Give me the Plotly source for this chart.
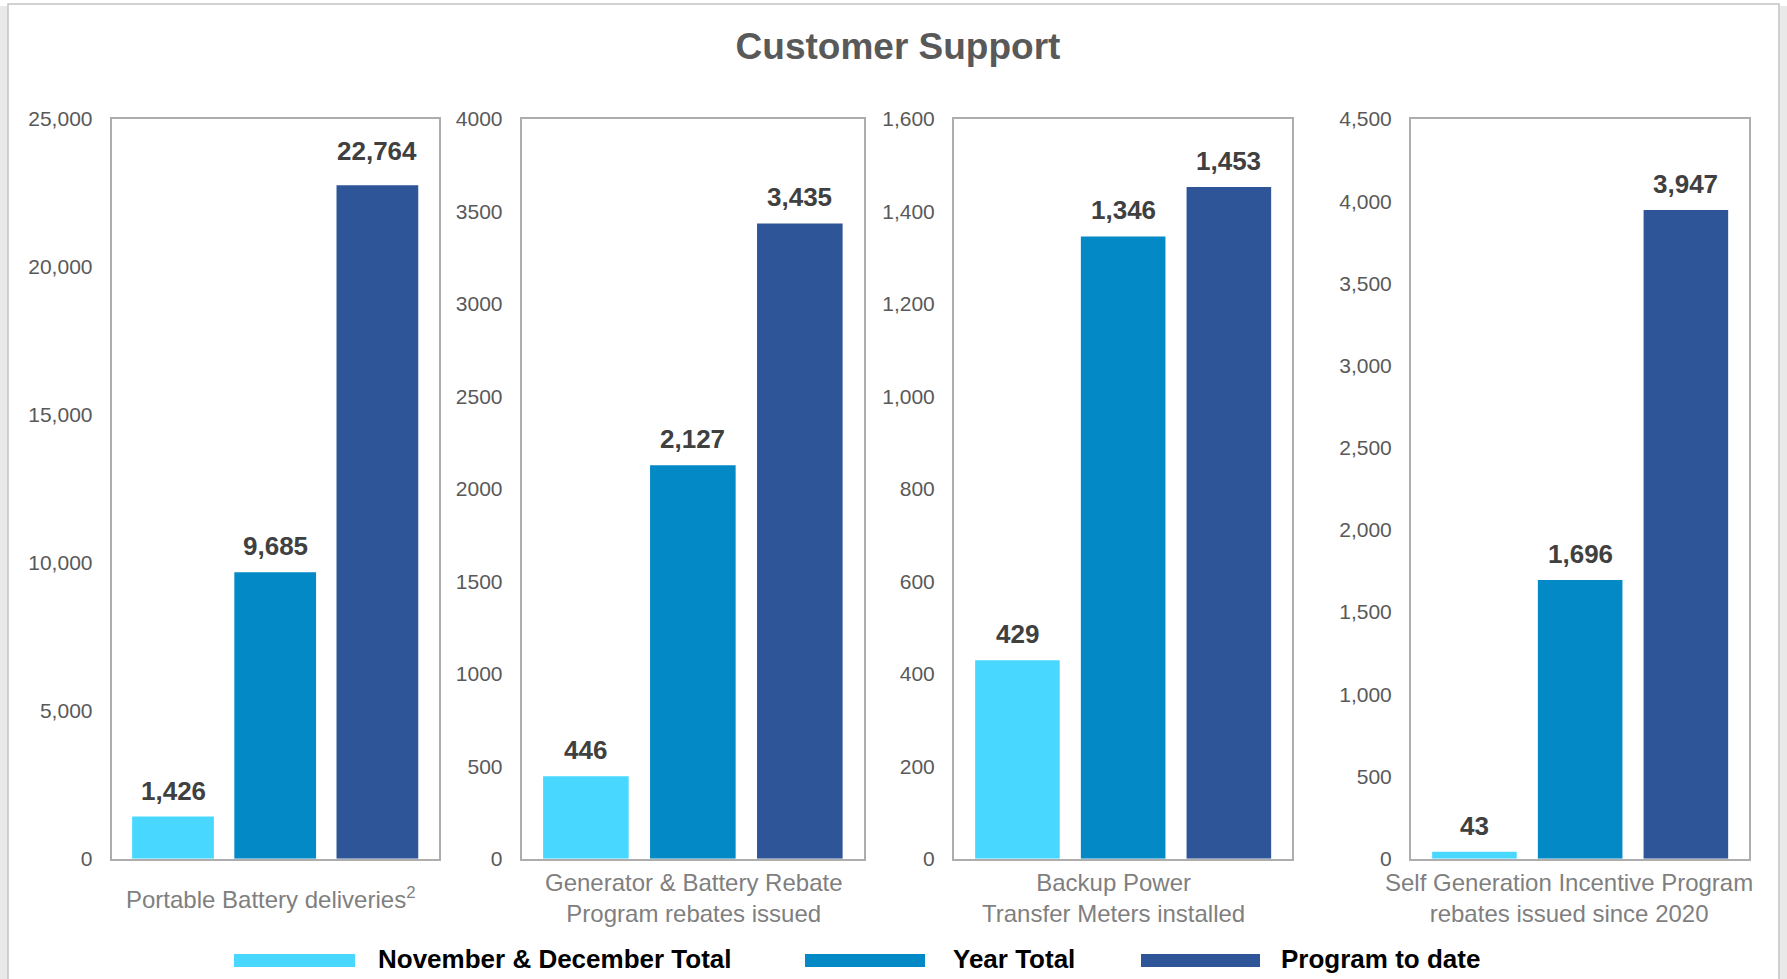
import plotly.graph_objects as go

# ---------------- data ----------------
series_names = ["November & December Total", "Year Total", "Program to date"]
panel_labels = [
    "Portable Battery deliveries<sup>2</sup>",
    "Generator & Battery Rebate<br>Program rebates issued",
    "Backup Power<br>Transfer Meters installed",
    "Self Generation Incentive Program<br>rebates issued since 2020",
]
portable_battery_deliveries = [1426, 9685, 22764]
generator_battery_rebates = [446, 2127, 3435]
transfer_meters_installed = [429, 1346, 1453]
sgip_rebates = [43, 1696, 3947]
y_axis_max = [25000, 4000, 1600, 4500]
y_axis_step = [5000, 500, 200, 500]
y_tick_formats = [",d", "d", ",d", ",d"]

panel_values = [portable_battery_deliveries, generator_battery_rebates,
                transfer_meters_installed, sgip_rebates]

# ---------------- style ----------------
series_colors = ["#48D8FF", "#0289C6", "#2E5597"]
W, H = 1787, 979
FONT = "Liberation Sans, Arial, sans-serif"
box_px = [(111.7, 438.7), (521.7, 864.0), (954.0, 1292.3), (1411.0, 1749.3)]
box_top, box_bottom = 119.0, 858.7
label_cx = [270, 694, 1113, 1569]
label_gap = 9
extra_gap = {(0, 2): 8}


def px(x):
    return x / W


def py(y):
    return 1 - y / H


fig = go.Figure()
layout = {}
for p, vals in enumerate(panel_values):
    k = "" if p == 0 else str(p + 1)
    xa, ya = "x" + k, "y" + k
    for s, v in enumerate(vals):
        fig.add_trace(go.Bar(
            x=[s], y=[v], width=0.8, name=series_names[s],
            marker=dict(color=series_colors[s], line=dict(width=0)),
            xaxis=xa, yaxis=ya, showlegend=False, legendgroup=series_names[s],
            hoverinfo="name+y",
        ))
        fig.add_annotation(
            x=s, y=v, xref=xa, yref=ya, text=f"{v:,}", showarrow=False,
            yanchor="bottom", yshift=label_gap + extra_gap.get((p, s), 0),
            font=dict(family=FONT, size=26, color="#404040", weight="bold"),
        )
    x0, x1 = box_px[p]
    layout["xaxis" + k] = dict(
        domain=[px(x0), px(x1)], anchor=ya, range=[-0.6, 2.6],
        showticklabels=False, showgrid=False, zeroline=False,
        showline=True, mirror=True, linecolor="#ADADAD", linewidth=2,
        ticks="", fixedrange=True, automargin=False,
    )
    layout["yaxis" + k] = dict(
        domain=[py(box_bottom), py(box_top)], anchor=xa,
        range=[0, y_axis_max[p]], dtick=y_axis_step[p], tick0=0,
        tickformat=y_tick_formats[p], showgrid=False, zeroline=False,
        showline=True, mirror=True, linecolor="#ADADAD", linewidth=2,
        ticks="", ticklabelstandoff=13, automargin=False,
        tickfont=dict(family=FONT, size=21, color="#595959"), fixedrange=True,
    )
    fig.add_annotation(
        x=px(label_cx[p]), y=py(898), xref="paper", yref="paper",
        text=panel_labels[p], showarrow=False, xanchor="center", yanchor="middle",
        font=dict(family=FONT, size=24, color="#7F7F7F"),
    )

# custom legend (wide swatches)
legend_swatch = [(234, 355), (805, 925), (1141, 1260)]
legend_text_x = [376, 951, 1279]
shapes = []
for s, name in enumerate(series_names):
    a, b = legend_swatch[s]
    shapes.append(dict(type="rect", xref="paper", yref="paper",
                       x0=px(a), x1=px(b), y0=py(967), y1=py(954),
                       fillcolor=series_colors[s], line=dict(width=0)))
    fig.add_annotation(
        x=px(legend_text_x[s]), y=py(959), xref="paper", yref="paper",
        text=name, showarrow=False, xanchor="left", yanchor="middle",
        font=dict(family=FONT, size=26, color="#000000", weight="bold"),
    )

# outer frame with light shadow
shapes.append(dict(type="rect", xref="paper", yref="paper", x0=px(0), x1=px(8),
                   y0=0, y1=py(6), fillcolor="#E9E9E9", line=dict(width=0), layer="below"))
shapes.append(dict(type="rect", xref="paper", yref="paper", x0=px(1779), x1=px(1787),
                   y0=0, y1=py(6), fillcolor="#E9E9E9", line=dict(width=0), layer="below"))
shapes.append(dict(type="rect", xref="paper", yref="paper", x0=px(8), x1=px(1779),
                   y0=py(990), y1=py(4), fillcolor="white",
                   line=dict(color="#C4C4C4", width=1.5), layer="below"))

fig.update_layout(
    width=W, height=H, margin=dict(l=0, r=0, t=0, b=0, pad=0, autoexpand=False),
    paper_bgcolor="white", plot_bgcolor="rgba(0,0,0,0)",
    title=dict(text="Customer Support", x=px(898), y=py(46), xanchor="center",
               yanchor="middle", xref="paper", yref="paper", automargin=False,
               font=dict(family=FONT, size=37, color="#595959", weight="bold")),
    barmode="overlay", showlegend=False, shapes=shapes,
    **layout,
)

fig.write_html(
    "out.html",
    config={"displayModeBar": False},
    post_script="document.body.style.margin='0';document.body.style.overflow='hidden';",
)
